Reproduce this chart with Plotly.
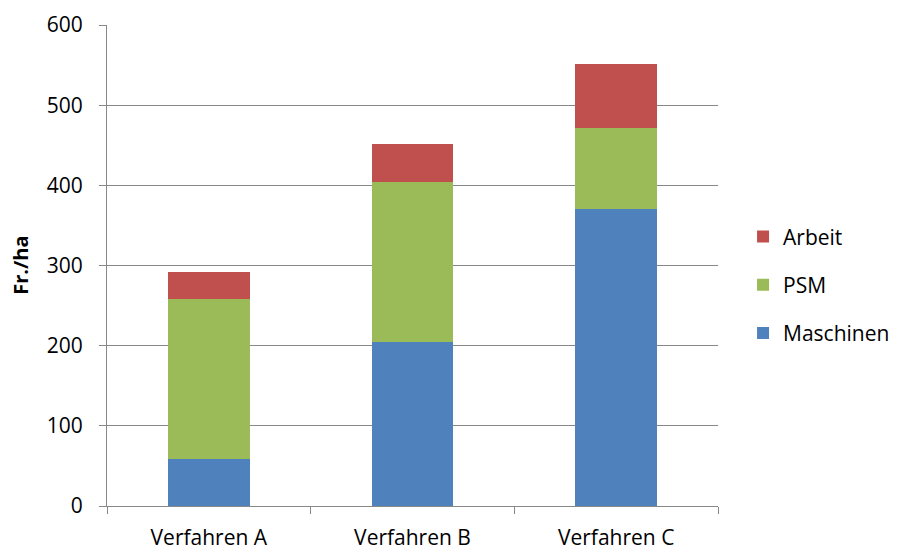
import plotly.graph_objects as go

categories = ["Verfahren A", "Verfahren B", "Verfahren C"]
maschinen = [59, 205, 371]
psm = [199, 199, 100]
arbeit = [34, 48, 80]
y_title = "Fr./ha"

series = [
    ("Maschinen", maschinen, "#4F81BD", 3),
    ("PSM", psm, "#9BBB59", 2),
    ("Arbeit", arbeit, "#C0504D", 1),
]

font_family = "Open Sans, Liberation Sans, sans-serif"

fig = go.Figure()
for name, vals, color, rank in series:
    fig.add_trace(go.Bar(
        x=categories, y=vals, name=name, legendgroup=name, legendrank=rank,
        marker=dict(color=color, line=dict(width=0)),
    ))

fig.update_layout(
    barmode="stack",
    bargap=0.6,
    width=903, height=550,
    margin=dict(l=107, r=185, t=25, b=44, autoexpand=False),
    paper_bgcolor="white", plot_bgcolor="white",
    font=dict(family=font_family, size=20, color="#000000"),
    showlegend=True,
    legend=dict(
        traceorder="grouped",
        tracegroupgap=18,
        x=1.041, xanchor="left", y=0.46, yanchor="middle",
        font=dict(size=21),
        itemwidth=30,
    ),
    yaxis=dict(
        range=[0, 600], dtick=100,
        showgrid=True, gridcolor="#888888", gridwidth=1,
        showline=True, linecolor="#888888", linewidth=1,
        ticks="outside", ticklen=7, tickcolor="#888888",
        zeroline=False,
        automargin=False,
        tickfont=dict(size=21),
        ticklabelstandoff=12,
    ),
    xaxis=dict(
        showline=True, linecolor="#888888", linewidth=1,
        ticks="outside", ticklen=7, tickcolor="#888888",
        tickson="boundaries",
        automargin=False,
        tickfont=dict(size=21),
        ticklabelstandoff=13,
    ),
    annotations=[dict(
        text="<b>" + y_title + "</b>",
        xref="paper", yref="paper", x=-0.142, y=0.5,
        xanchor="center", yanchor="middle",
        textangle=-90, showarrow=False,
        font=dict(size=20, color="#000000"),
    )],
)

fig.write_html(
    "out.html",
    config={"displayModeBar": False},
    post_script="document.body.style.margin='0';document.body.style.overflow='hidden';",
)
